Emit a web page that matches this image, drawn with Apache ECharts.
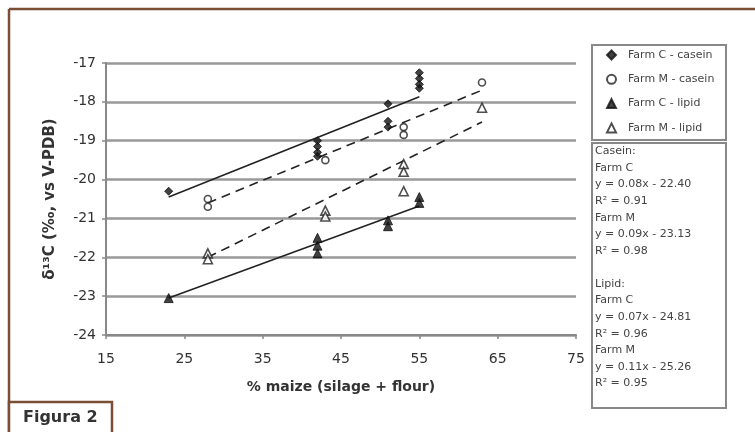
<!DOCTYPE html>
<html>
<head>
<meta charset="utf-8">
<script src="https://cdn.jsdelivr.net/npm/echarts@6/dist/echarts.min.js"></script>
<style>
html,body{margin:0;padding:0;background:#fff;}
#chart{width:755px;height:432px;}
</style>
</head>
<body>
<div id="chart"></div>
<script>
// ---- data ----
const xTicks = [15, 25, 35, 45, 55, 65, 75];
const yTicks = [-24, -23, -22, -21, -20, -19, -18, -17];
const seriesNames = ['Farm C - casein', 'Farm M - casein', 'Farm C - lipid', 'Farm M - lipid'];
const farmCCasein = [[23,-20.3],[42,-19.0],[42,-19.15],[42,-19.3],[42,-19.4],[51,-18.05],[51,-18.5],[51,-18.65],[55,-17.25],[55,-17.4],[55,-17.55],[55,-17.65]];
const farmMCasein = [[28,-20.5],[28,-20.7],[43,-19.5],[53,-18.65],[53,-18.85],[63,-17.5]];
const farmCLipid = [[23,-23.05],[42,-21.5],[42,-21.7],[42,-21.9],[51,-21.05],[51,-21.2],[55,-20.45],[55,-20.6]];
const farmMLipid = [[28,-21.9],[28,-22.05],[43,-20.8],[43,-20.95],[53,-19.6],[53,-19.8],[53,-20.3],[63,-18.15]];
const trendCCasein = [[23,-20.45],[55,-17.87]];
const trendMCasein = [[28,-20.6],[63,-17.7]];
const trendCLipid = [[23,-23.05],[55,-20.68]];
const trendMLipid = [[28,-22.0],[63,-18.52]];
const eqLines = ['Casein:', 'Farm C', 'y = 0.08x - 22.40', 'R² = 0.91', 'Farm M', 'y = 0.09x - 23.13', 'R² = 0.98', '', 'Lipid:', 'Farm C', 'y = 0.07x - 24.81', 'R² = 0.96', 'Farm M', 'y = 0.11x - 25.26', 'R² = 0.95'];
const figLabel = 'Figura 2';

const chart = echarts.init(document.getElementById('chart'));
const font = '"DejaVu Sans", Verdana, sans-serif';
const brown = '#7a4e34';

function scatter(name, data, symbol, filled, size) {
  return {
    name: name, type: 'scatter', data: data, symbol: symbol, symbolSize: size,
    itemStyle: filled ? {color: '#111', borderColor: '#111', borderWidth: 1}
                      : {color: '#fff', borderColor: '#222', borderWidth: 1.6},
    z: 5
  };
}
function trend(data, dashed) {
  return {
    type: 'line', data: data, symbol: 'none', silent: true,
    lineStyle: {color: '#222', width: 1.6, type: dashed ? [9, 6] : 'solid'},
    z: 4
  };
}

const graphics = [
  {type: 'line', shape: {x1: 9, y1: 9, x2: 755, y2: 9}, style: {stroke: brown, lineWidth: 2.5}},
  {type: 'line', shape: {x1: 9, y1: 9, x2: 9, y2: 432}, style: {stroke: brown, lineWidth: 2.5}},
  {type: 'rect', shape: {x: 9, y: 402, width: 103, height: 34}, style: {fill: '#fff', stroke: brown, lineWidth: 2.5}},
  {type: 'text', left: 23, top: 410, style: {text: figLabel, font: 'bold 16px "DejaVu Sans", sans-serif', fill: '#333'}},
  {type: 'rect', shape: {x: 592, y: 45, width: 134, height: 95}, style: {fill: 'none', stroke: '#888', lineWidth: 2}},
  {type: 'rect', shape: {x: 592, y: 143, width: 134, height: 265}, style: {fill: 'none', stroke: '#888', lineWidth: 2}}
];
eqLines.forEach(function (t, i) {
  if (!t) return;
  graphics.push({type: 'text', left: 595, top: 146 + i * 16.57,
    style: {text: t, font: '11px ' + font, fill: '#444'}});
});

chart.setOption({
  animation: false,
  backgroundColor: '#fff',
  grid: {left: 106, right: 179, top: 63, bottom: 97},
  legend: {
    data: seriesNames, orient: 'vertical', left: 606, top: 48,
    itemWidth: 9, itemHeight: 9, itemGap: 10.3,
    textStyle: {fontFamily: font, fontSize: 11, color: '#444', lineHeight: 14, padding: [0, 0, 0, 7]},
    padding: 0
  },
  xAxis: {
    type: 'value', min: xTicks[0], max: xTicks[xTicks.length - 1], interval: 10,
    name: '% maize (silage + flour)', nameLocation: 'middle', nameGap: 45,
    nameTextStyle: {fontFamily: font, fontSize: 14, fontWeight: 'bold', color: '#333'},
    axisLine: {lineStyle: {color: '#888', width: 2}},
    axisTick: {show: true, length: 4, lineStyle: {color: '#888', width: 1.5}},
    axisLabel: {fontFamily: font, fontSize: 14, color: '#333', margin: 17},
    splitLine: {show: false}
  },
  yAxis: {
    type: 'value', min: yTicks[0], max: yTicks[yTicks.length - 1], interval: 1,
    name: 'δ¹³C (‰, vs V-PDB)', nameLocation: 'middle', nameGap: 48,
    nameTextStyle: {fontFamily: font, fontSize: 15, fontWeight: 'bold', color: '#333'},
    axisLine: {show: true, lineStyle: {color: '#888', width: 2}},
    axisTick: {show: true, length: 4, lineStyle: {color: '#888', width: 1.5}},
    axisLabel: {fontFamily: font, fontSize: 14, color: '#333', margin: 10},
    splitLine: {show: true, lineStyle: {color: '#999', width: 2.5}}
  },
  series: [
    scatter(seriesNames[0], farmCCasein, 'diamond', true, 8),
    scatter(seriesNames[1], farmMCasein, 'circle', false, 7),
    scatter(seriesNames[2], farmCLipid, 'triangle', true, 9),
    scatter(seriesNames[3], farmMLipid, 'triangle', false, 9),
    trend(trendCCasein, false),
    trend(trendMCasein, true),
    trend(trendCLipid, false),
    trend(trendMLipid, true)
  ],
  graphic: graphics
});
</script>
</body>
</html>
